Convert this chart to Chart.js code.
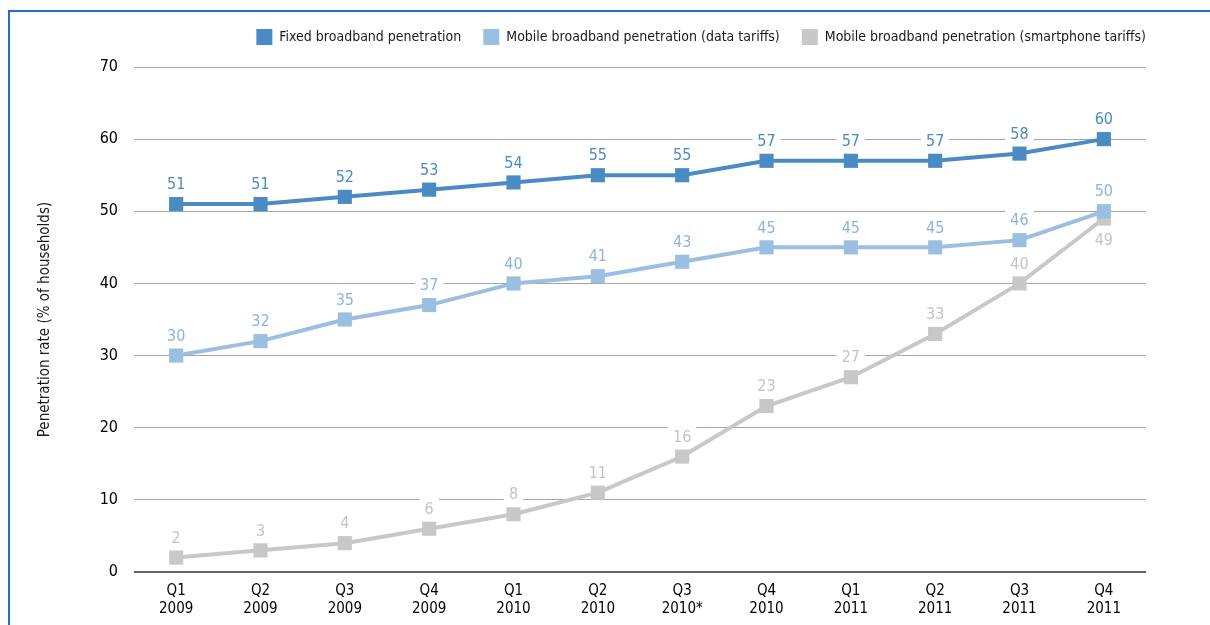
<!DOCTYPE html>
<html>
<head>
<meta charset="utf-8">
<script src="https://cdn.jsdelivr.net/npm/chart.js@4/dist/chart.umd.min.js"></script>
<style>
  html, body { margin: 0; padding: 0; background: #fff; }
  #wrap { position: relative; width: 1210px; height: 625px; overflow: hidden; }
  #frame { position: absolute; left: 8px; top: 10px; right: 0; bottom: 0;
           border-top: 2px solid #1f6fc5; border-left: 2px solid #1f6fc5; }
  #chartLine { position: absolute; left: 0; top: 0; }
</style>
</head>
<body>
<div id="wrap">
  <div id="frame"></div>
  <canvas id="chartLine" width="1210" height="625"></canvas>
</div>
<script>
  // quarters on the x axis (two-line labels)
  const quarters = [
    ['Q1', '2009'], ['Q2', '2009'], ['Q3', '2009'], ['Q4', '2009'],
    ['Q1', '2010'], ['Q2', '2010'], ['Q3', '2010*'], ['Q4', '2010'],
    ['Q1', '2011'], ['Q2', '2011'], ['Q3', '2011'], ['Q4', '2011']
  ];
  const fixedBroadband = [51, 51, 52, 53, 54, 55, 55, 57, 57, 57, 58, 60];
  const mobileData = [30, 32, 35, 37, 40, 41, 43, 45, 45, 45, 46, 50];
  const mobileSmartphone = [2, 3, 4, 6, 8, 11, 16, 23, 27, 33, 40, 49];
  const yTicks = [0, 10, 20, 30, 40, 50, 60, 70];

  const FONT = "'DejaVu Sans Condensed', 'Liberation Sans Narrow', sans-serif";

  // value labels with a white box behind, drawn before the lines
  const valueLabels = {
    id: 'valueLabels',
    beforeLayout(chart) {
      // leave a bit more room between the legend and the plot
      const lg = chart.legend;
      if (lg && !lg._extra) {
        const fit = lg.fit;
        lg.fit = function () { fit.call(this); this.height += 12; };
        lg._extra = true;
      }
    },
    afterLayout(chart) {
      // legend ends flush with the right end of the gridlines
      const lg = chart.legend;
      if (lg) { lg.left += 22; lg.right += 22; }
    },
    beforeDatasetsDraw(chart) {
      const ctx = chart.ctx;
      ctx.save();
      ctx.font = '16px ' + FONT;
      ctx.textAlign = 'center';
      ctx.textBaseline = 'middle';
      chart.data.datasets.forEach((ds, i) => {
        const meta = chart.getDatasetMeta(i);
        meta.data.forEach((pt, j) => {
          const txt = String(ds.data[j]);
          // the last smartphone value sits under its point
          const below = i === 2 && j === ds.data.length - 1;
          const y = below ? pt.y + 21 : pt.y - 20;
          const w = ctx.measureText(txt).width + 10;
          ctx.fillStyle = '#fff';
          ctx.fillRect(pt.x - w / 2, y - 10, w, 20);
          ctx.fillStyle = ds.labelColor;
          ctx.fillText(txt, pt.x, y + 1);
        });
      });
      ctx.restore();
    }
  };

  const mkSet = (label, data, color, labelColor) => ({
    label: label,
    data: data,
    borderColor: color,
    backgroundColor: color,
    labelColor: labelColor,
    borderWidth: 4,
    pointStyle: 'rect',
    pointRadius: 10,
    pointHoverRadius: 10,
    pointBorderWidth: 0,
    tension: 0,
    fill: false
  });

  const chartLine = new Chart(document.getElementById('chartLine').getContext('2d'), {
    type: 'line',
    data: {
      labels: quarters,
      datasets: [
        mkSet('Fixed broadband penetration', fixedBroadband, '#4a8bc4', '#4a8bc4'),
        mkSet('Mobile broadband penetration (data tariffs)', mobileData, '#9bbfe0', '#8db4dc'),
        mkSet('Mobile broadband penetration (smartphone tariffs)', mobileSmartphone, '#c8c8c8', '#c4c4c4')
      ]
    },
    plugins: [valueLabels],
    options: {
      responsive: false,
      animation: false,
      devicePixelRatio: 1,
      layout: { padding: { left: 36, right: 64, top: 7, bottom: 0 } },
      plugins: {
        tooltip: { enabled: false },
        legend: {
          position: 'top',
          align: 'end',
          labels: {
            boxWidth: 16,
            boxHeight: 16,
            padding: 22,
            color: '#1a1a1a',
            font: { family: FONT, size: 14 },
            generateLabels(chart) {
              return Chart.defaults.plugins.legend.labels.generateLabels(chart)
                .map(l => Object.assign(l, { lineWidth: 0 }));
            }
          }
        }
      },
      scales: {
        x: {
          offset: true,
          grid: { display: false, drawTicks: false },
          border: { display: false },
          ticks: {
            color: '#000',
            padding: 10,
            maxRotation: 0,
            font: { family: FONT, size: 15 }
          },
          afterFit(scale) { scale.height = 53; }
        },
        y: {
          min: 0,
          max: 70,
          afterBuildTicks(scale) { scale.ticks = yTicks.map(v => ({ value: v })); },
          grid: {
            drawTicks: false,
            color: ctx => ctx.tick && ctx.tick.value === 0 ? '#666' : '#a6a6a6',
            lineWidth: ctx => ctx.tick && ctx.tick.value === 0 ? 2 : 1
          },
          border: { display: false },
          ticks: {
            color: '#000',
            padding: 16,
            font: { family: FONT, size: 16 }
          },
          title: {
            display: true,
            text: 'Penetration rate (% of households)',
            color: '#1a1a1a',
            padding: 0,
            font: { family: FONT, size: 15 }
          },
          afterFit(scale) { scale.width = 98; }
        }
      }
    }
  });
</script>
</body>
</html>
